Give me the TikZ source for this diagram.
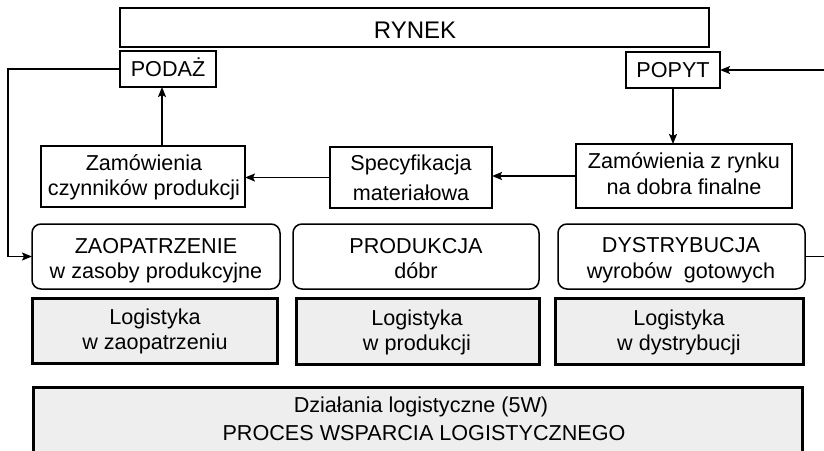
\documentclass[tikz,border=0pt]{standalone}
\usepackage{fontspec}
\setmainfont{Liberation Sans}
\usetikzlibrary{arrows.meta}
\definecolor{panelgray}{HTML}{EEEEEE}
\begin{document}
\begin{tikzpicture}[x=1pt,y=-1pt,
  shell/.style={draw=black, inner sep=0pt, outer sep=0pt, fill=white},
  thinbox/.style={shell, line width=1.2pt},
  midbox/.style={shell, line width=1.8pt},
  stagebox/.style={shell, line width=1.5pt, rounded corners=9pt},
  logbox/.style={shell, line width=3pt, fill=panelgray},
  lbl/.style={anchor=base, inner sep=0pt, font=\fontsize{21.6}{26}\selectfont},
  biglbl/.style={anchor=base, inner sep=0pt, font=\fontsize{24}{28}\selectfont},
  flow/.style={line width=1.6pt, -{Stealth[length=10pt,width=8pt,inset=2pt]}}
]
\clip (0,0) rectangle (824,450);

% market and its two sides
\node[shell, line width=2pt, minimum width=589pt, minimum height=39pt] (rynek) at (414.5,27.5) {};
\node[thinbox, minimum width=96pt, minimum height=36pt] (podaz) at (168,69) {};
\node[thinbox, minimum width=94pt, minimum height=36pt] (popyt) at (673,70) {};

% order flow boxes
\node[midbox, minimum width=204pt, minimum height=61pt] (zamcz) at (143,176.5) {};
\node[midbox, minimum width=162pt, minimum height=61pt] (spec) at (411,177.5) {};
\node[midbox, minimum width=216pt, minimum height=64pt] (zamr) at (684,176) {};

% process stages
\node[stagebox, minimum width=248pt, minimum height=65pt] (zaop) at (156,256.5) {};
\node[stagebox, minimum width=246pt, minimum height=65pt] (prod) at (416,256.5) {};
\node[stagebox, minimum width=247pt, minimum height=65pt] (dyst) at (681.5,256.5) {};

% logistics layers
\node[logbox, minimum width=245pt, minimum height=65pt] (lzaop) at (154.5,330.5) {};
\node[logbox, minimum width=243pt, minimum height=66pt] (lprod) at (417.5,331) {};
\node[logbox, minimum width=248pt, minimum height=66pt] (ldyst) at (679,331) {};
\node[logbox, minimum width=769pt, minimum height=83pt] (wsp) at (417.5,428.5) {};

% labels
\node[biglbl] (t-rynek) at (415,38) {RYNEK};
\node[lbl] (t-podaz) at (168,76.5) {PODAŻ};
\node[lbl] (t-popyt) at (673,77.5) {POPYT};

\node[lbl] (t-zamcz-1) at (144,170) {Zamówienia};
\node[lbl] (t-zamcz-2) at (144,195) {czynników produkcji};
\node[lbl] (t-spec-1) at (411,170) {Specyfikacja};
\node[lbl] (t-spec-2) at (411,200) {materiałowa};
\node[lbl] (t-zamr-1) at (684,168) {Zamówienia z rynku};
\node[lbl] (t-zamr-2) at (684,194) {na dobra finalne};

\node[lbl] (t-zaop-1) at (156,253) {ZAOPATRZENIE};
\node[lbl] (t-zaop-2) at (156,278) {w zasoby produkcyjne};
\node[lbl] (t-prod-1) at (416,253) {PRODUKCJA};
\node[lbl] (t-prod-2) at (416,278) {dóbr};
\node[lbl] (t-dyst-1) at (681,252.5) {DYSTRYBUCJA};
\node[lbl] (t-dyst-2) at (681,278) {wyrobów\ \ gotowych};

\node[lbl] (t-lzaop-1) at (155,324) {Logistyka};
\node[lbl] (t-lzaop-2) at (155,349) {w zaopatrzeniu};
\node[lbl] (t-lprod-1) at (417,325) {Logistyka};
\node[lbl] (t-lprod-2) at (417,350) {w produkcji};
\node[lbl] (t-ldyst-1) at (679,325) {Logistyka};
\node[lbl] (t-ldyst-2) at (679,350) {w dystrybucji};

\node[lbl] (t-wsp-1) at (421,412) {Działania logistyczne (5W)};
\node[lbl] (t-wsp-2) at (424,440) {PROCES WSPARCIA LOGISTYCZNEGO};

% connectors
\coordinate (leftrail) at (8,69);
\coordinate (rightrail) at (832,256.5);
\draw[flow] (podaz.west) -- (leftrail) |- (zaop.west);
\draw[flow] (dyst.east) -- (rightrail) |- (popyt.east);
\draw[flow] (popyt.south) -- (popyt.south |- zamr.north);
\draw[flow] (zamr.west) -- (zamr.west -| spec.east);
\draw[flow] (spec.west) -- (spec.west -| zamcz.east);
\draw[flow] ([xshift=19pt]zamcz.north) -- ([xshift=19pt]zamcz.north |- podaz.south);
\end{tikzpicture}
\end{document}
